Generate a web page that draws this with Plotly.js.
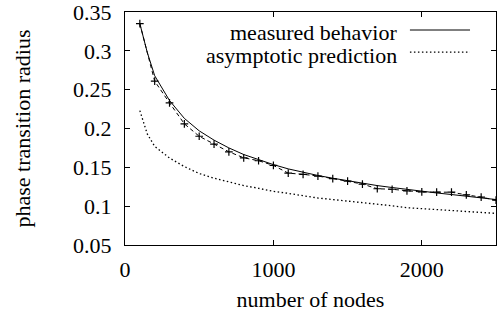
<!DOCTYPE html>
<html>
<head>
<meta charset="utf-8">
<script src="https://cdn.plot.ly/plotly-3.0.1.min.js"></script>
<style>html,body{margin:0;padding:0;background:#fff;}#chart{width:503px;height:312px;}</style>
</head>
<body>
<div id="chart"></div>
<script>
// measured data points (dashed line with + markers)
var nodes = [100,200,300,400,500,600,700,800,900,1000,1100,1200,1300,1400,1500,1600,1700,1800,1900,2000,2100,2200,2300,2400,2500];
var measuredPoints = [0.335,0.261,0.233,0.206,0.190,0.180,0.170,0.1623,0.1585,0.1525,0.1425,0.141,0.1388,0.1355,0.1322,0.1285,0.1224,0.1218,0.1198,0.1183,0.118,0.118,0.1145,0.1117,0.1077];

// measured behavior (smooth solid curve)
var fitNodes = [100,150,200,300,400,500,600,700,800,900,1000,1100,1200,1300,1400,1500,1600,1700,1800,1900,2000,2100,2200,2300,2400,2500];
var measuredBehavior = [0.335,0.298,0.268,0.236,0.213,0.197,0.185,0.175,0.1665,0.1595,0.1535,0.148,0.1435,0.1395,0.136,0.1325,0.1295,0.1265,0.124,0.1215,0.119,0.117,0.115,0.113,0.111,0.1085];

// asymptotic prediction (dotted curve)
var asymNodes = [100,150,200,300,400,500,600,700,800,900,1000,1100,1200,1300,1400,1500,1600,1700,1800,1900,2000,2100,2200,2300,2400,2500];
var asymptoticPrediction = [0.223,0.193,0.177,0.162,0.151,0.142,0.136,0.131,0.1265,0.123,0.119,0.1165,0.1135,0.1105,0.1085,0.1066,0.104,0.102,0.1005,0.098,0.0968,0.0955,0.094,0.0928,0.0918,0.0907];

var legendNames = ["measured behavior", "asymptotic prediction"];
var xTitle = "number of nodes";
var yTitle = "phase transition radius";

var FONT = "Liberation Serif";
var FS = 22;

var traces = [
  {x: fitNodes, y: measuredBehavior, type: "scatter", mode: "lines", name: legendNames[0],
   line: {color: "#000", width: 1}, showlegend: false},
  {x: nodes, y: measuredPoints, type: "scatter", mode: "lines+markers", name: "measured",
   line: {color: "#000", width: 1, dash: "4px,3px"},
   marker: {symbol: "cross-thin-open", size: 5.5, line: {color: "#000", width: 1.2}}, showlegend: false},
  {x: asymNodes, y: asymptoticPrediction, type: "scatter", mode: "lines", name: legendNames[1],
   line: {color: "#000", width: 1.3, dash: "1.5px,2.5px"}, showlegend: false}
];

var layout = {
  width: 503, height: 312,
  margin: {l: 125, r: 7, t: 12, b: 67},
  paper_bgcolor: "#fff", plot_bgcolor: "#fff",
  font: {family: FONT, size: FS, color: "#000"},
  showlegend: false,
  xaxis: {
    range: [0, 2500], dtick: 1000, tick0: 0,
    ticks: "inside", ticklen: 5, tickcolor: "#000", tickwidth: 1,
    showline: true, linecolor: "#000", linewidth: 1, mirror: "ticks",
    showgrid: false, zeroline: false,
    ticklabelstandoff: 5, ticklabeloverflow: "allow",
    tickfont: {family: FONT, size: FS, color: "#000"},
    title: {text: xTitle, font: {family: FONT, size: FS, color: "#000"}, standoff: 10}
  },
  yaxis: {
    range: [0.05, 0.35], dtick: 0.05, tick0: 0.05,
    ticks: "inside", ticklen: 5, tickcolor: "#000", tickwidth: 1,
    showline: true, linecolor: "#000", linewidth: 1, mirror: "ticks",
    showgrid: false, zeroline: false,
    ticklabelstandoff: 8, ticklabeloverflow: "allow",
    tickfont: {family: FONT, size: FS, color: "#000"},
    title: {text: yTitle, font: {family: FONT, size: FS, color: "#000"}, standoff: 36}
  },
  annotations: [
    {xref: "paper", yref: "paper", x: 0.738, y: 0.910, xanchor: "right", yanchor: "middle",
     text: legendNames[0], showarrow: false, font: {family: FONT, size: FS, color: "#000"}},
    {xref: "paper", yref: "paper", x: 0.738, y: 0.815, xanchor: "right", yanchor: "middle",
     text: legendNames[1], showarrow: false, font: {family: FONT, size: FS, color: "#000"}}
  ],
  shapes: [
    {type: "line", xref: "paper", yref: "paper", x0: 0.768, x1: 0.930, y0: 0.9227, y1: 0.9227,
     line: {color: "#000", width: 1}},
    {type: "line", xref: "paper", yref: "paper", x0: 0.768, x1: 0.930, y0: 0.828, y1: 0.828,
     line: {color: "#000", width: 1.3, dash: "1.5px,2.5px"}}
  ]
};

Plotly.newPlot("chart", traces, layout, {displayModeBar: false, staticPlot: true});
</script>
</body>
</html>
